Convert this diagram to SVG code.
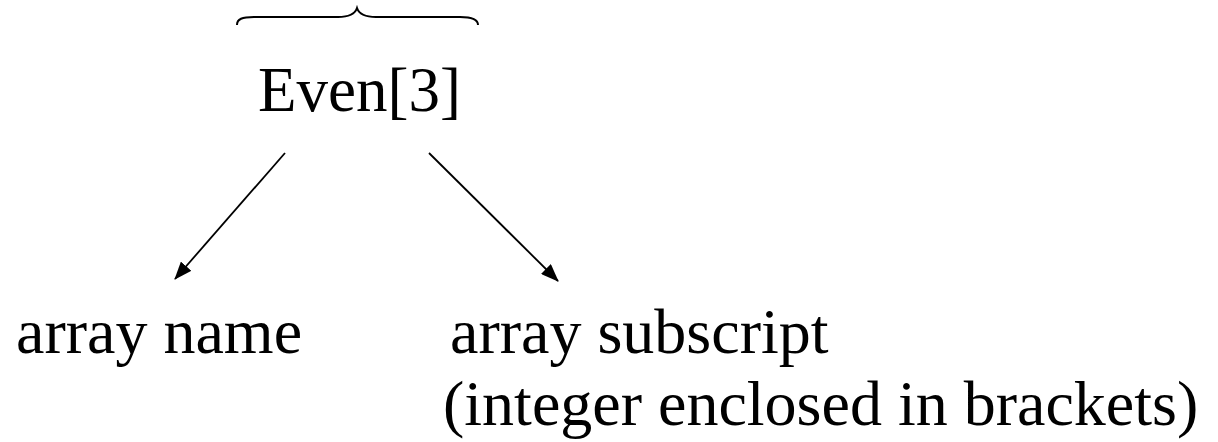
<svg xmlns="http://www.w3.org/2000/svg" width="1218" height="442" viewBox="0 0 1218 442">
<style>
  text { font-family: "Liberation Serif", "Times New Roman", serif; font-size: 64px; fill: #000; }
  .title { font-size: 63px; }
  .conn { stroke: #000; stroke-width: 1.8; fill: none; }
  .brace { stroke: #000; stroke-width: 2; fill: none; }
</style>
<defs>
  <marker id="arrow" markerUnits="userSpaceOnUse" markerWidth="18" markerHeight="14" refX="17" refY="7" orient="auto">
    <path d="M0,0 L18,7 L0,14 Z" fill="#000"/>
  </marker>
</defs>
<g id="brace">
  <path class="brace" d="M237,25 C237,19 242,17 254,17 L338,17 C350,17 355,14 357,8 C359,14 364,17 376,17 L460,17 C472,17 478,19 478,25"/>
</g>
<g id="node-even">
  <text class="title" x="258" y="111">Even[3]</text>
</g>
<g id="node-name">
  <text x="16" y="353">array name</text>
</g>
<g id="node-subscript">
  <text x="450" y="353">array subscript</text>
  <text x="443" y="425">(integer enclosed in brackets)</text>
</g>
<g id="connectors">
  <line class="conn" x1="285" y1="153" x2="175" y2="279" marker-end="url(#arrow)"/>
  <line class="conn" x1="429" y1="153" x2="558" y2="281" marker-end="url(#arrow)"/>
</g>
</svg>
